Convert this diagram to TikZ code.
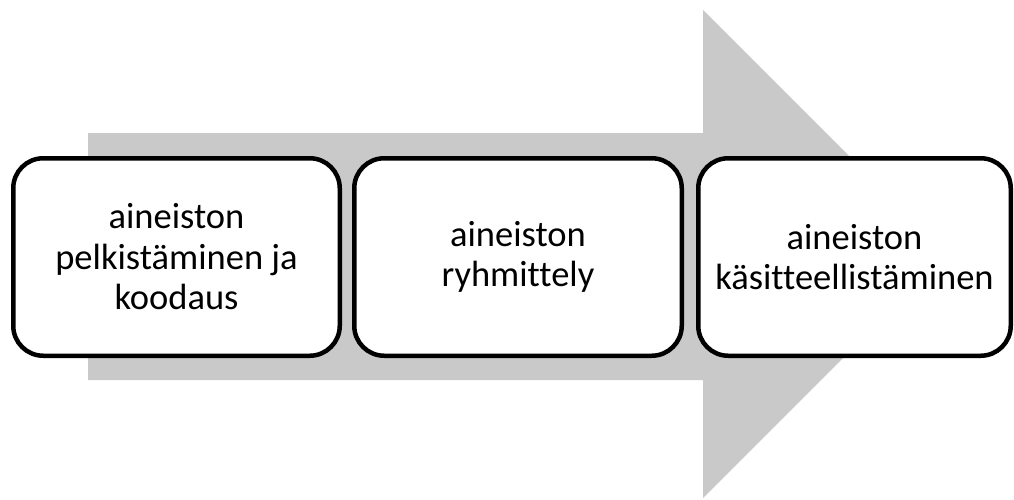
\documentclass[tikz,border=0pt]{standalone}
\usepackage{fontspec}
\setmainfont[Ligatures=NoCommon]{Carlito}
\definecolor{flowgray}{RGB}{201,201,201}
\tikzset{
  stagebox/.style={draw=black, line width=4.5pt, fill=white, rounded corners=30pt,
    minimum height=197.5pt, align=center, inner sep=0pt,
    font=\fontsize{36.5}{40.5}\selectfont},
}
\begin{document}
\begin{tikzpicture}[x=1pt,y=-1pt]
\useasboundingbox (0,0) rectangle (1014,499);
% broad background arrow
\fill[flowgray] (88,133) -- (703,133) -- (703,10) -- (947,254) -- (703,498)
  -- (703,380) -- (88,380) -- cycle;
% process stages
\node[stagebox, minimum width=326.5pt] (s1) at (176.5,257) {aineiston\\pelkistäminen ja\\koodaus};
\node[stagebox, minimum width=327.5pt] (s2) at (518,257) {aineiston\\ryhmittely};
\node[stagebox, minimum width=312.5pt] (s3) at (854.5,257) {aineiston\\käsitteellistäminen};
\end{tikzpicture}
\end{document}
